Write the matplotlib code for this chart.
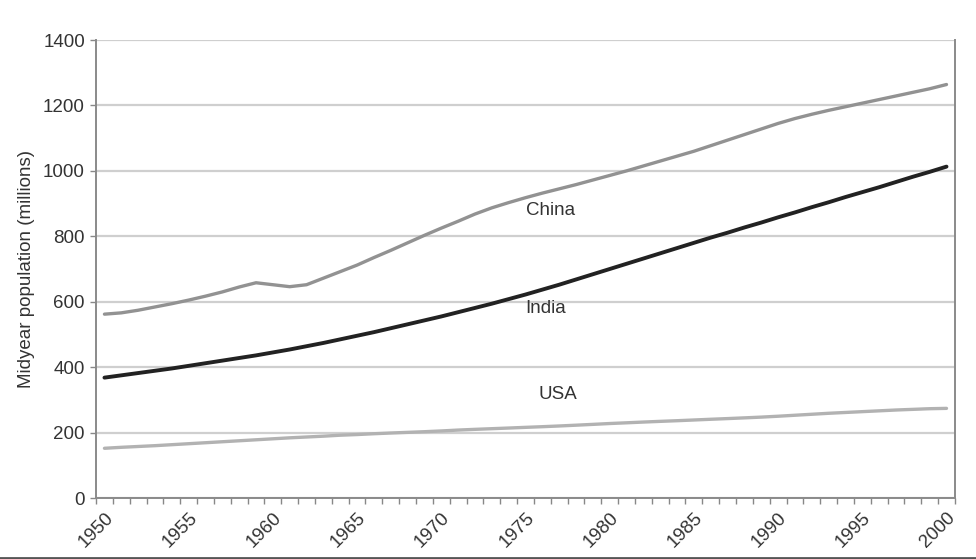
import matplotlib
matplotlib.use("Agg")
import matplotlib.pyplot as plt
from matplotlib.lines import Line2D

years = list(range(1950, 2001))

china = [562, 566, 574, 584, 594, 605, 617, 630, 645, 658,
         652, 646, 652, 672, 692, 712, 735, 757, 780, 803,
         825, 846, 868, 887, 903, 918, 932, 945, 958, 972,
         986, 1000, 1015, 1030, 1045, 1060, 1077, 1094, 1111, 1128,
         1145, 1160, 1173, 1185, 1196, 1207, 1218, 1229, 1240, 1251,
         1264]

india = [368, 375, 382, 389, 396, 404, 412, 420, 428, 436,
         445, 454, 464, 474, 485, 496, 507, 519, 531, 543,
         555, 568, 581, 594, 608, 622, 637, 652, 668, 684,
         700, 716, 732, 748, 764, 780, 796, 811, 827, 842,
         858, 873, 889, 904, 920, 935, 950, 966, 982, 997,
         1013]

usa = [152, 155, 157.5, 160, 163, 166, 169, 172, 175, 178,
       181, 184, 186.5, 189, 192, 194, 196.5, 198.7, 200.7, 202.7,
       205, 207.7, 209.9, 211.9, 213.9, 216, 218, 220.2, 222.6, 225.1,
       227.7, 229.9, 232.2, 234.3, 236.3, 238.5, 240.7, 242.8, 245, 247.3,
       250, 253, 256, 259, 261.5, 264, 266.5, 269, 271, 273,
       274]

y_ticks = [0, 200, 400, 600, 800, 1000, 1200, 1400]
x_labels = list(range(1950, 2001, 5))

plt.rcParams['font.family'] = ['Liberation Sans', 'DejaVu Sans']

fig = plt.figure(figsize=(9.76, 5.59), dpi=100)
ax = fig.add_axes([0.0984, 0.1091, 0.8800, 0.8193])

for v in y_ticks:
    ax.axhline(v, color='#cfcfcf', lw=1.6, zorder=0)

ax.plot(years, usa, color='#b2b2b2', lw=2.4, solid_capstyle='round')
ax.plot(years, china, color='#929292', lw=2.4, solid_capstyle='round')
ax.plot(years, india, color='#222222', lw=2.8, solid_capstyle='round')

ax.text(1976.5, 880, 'China', fontsize=13.5, color='#333333', ha='center', va='center')
ax.text(1976.2, 578, 'India', fontsize=13.5, color='#333333', ha='center', va='center')
ax.text(1976.9, 316, 'USA', fontsize=13.5, color='#333333', ha='center', va='center')

ax.set_xlim(1949.5, 2000.5)
ax.set_ylim(0, 1400)
ax.set_yticks(y_ticks)
ax.set_yticklabels([str(v) for v in y_ticks], fontsize=13.5, color='#333333')
ax.set_xticks(x_labels)
ax.set_xticklabels([str(v) for v in x_labels], fontsize=13.5, color='#333333',
                   rotation=45, ha='right', rotation_mode='anchor')
ax.tick_params(axis='x', length=0, pad=8)
ax.set_xticks([y - 0.5 for y in years] + [2000.5], minor=True)
ax.tick_params(axis='x', which='minor', length=4, color='#888888', width=1)
ax.tick_params(axis='y', length=4, color='#888888', width=1, pad=4)

ax.set_ylabel('Midyear population (millions)', fontsize=13.5, color='#333333', labelpad=6)

for side in ['left', 'right', 'bottom']:
    ax.spines[side].set_color('#8a8a8a')
    ax.spines[side].set_linewidth(1.4)
ax.spines['top'].set_visible(False)

fig.add_artist(Line2D([0, 1], [0.002, 0.002], transform=fig.transFigure,
                      color='#555555', lw=2))

fig.savefig('out.png', dpi=100)
